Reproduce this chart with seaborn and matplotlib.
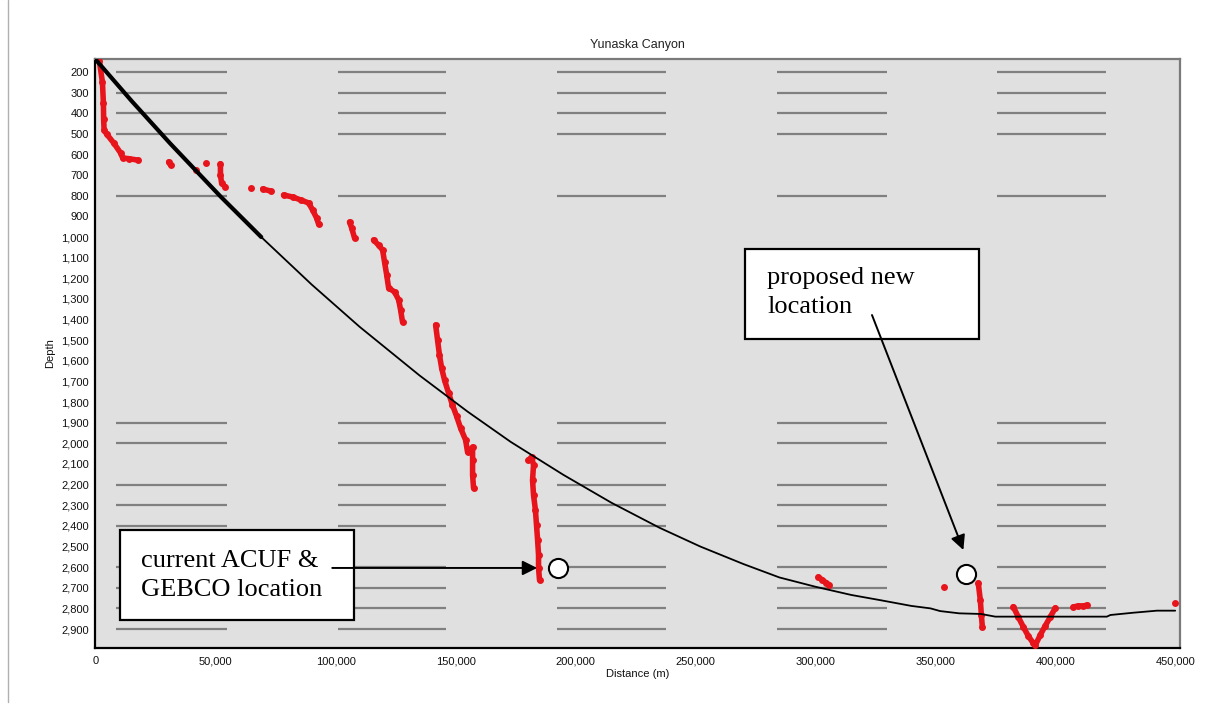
import pandas as pd
import matplotlib
matplotlib.use("Agg")
import matplotlib.pyplot as plt
from matplotlib.patches import Rectangle
from matplotlib.lines import Line2D
import seaborn as sns

# canyon thalweg profile (black line): distance along track (m), depth (m)
profile_dist = [0, 15000, 31000, 52000, 69000, 90000, 110000, 135000, 155000, 173000,
                195000, 215000, 235000, 252000, 270000, 285000, 300000, 315000, 327000,
                340000, 348000, 352000, 360000, 369000, 375000,
                421500, 423000, 432500, 442400, 450000]
profile_depth = [140, 341, 546, 803, 1000, 1230, 1435, 1671, 1846, 1993,
                 2153, 2288, 2409, 2500, 2585, 2650, 2695, 2735, 2760,
                 2788, 2800, 2813, 2824, 2827, 2840,
                 2840, 2832, 2821, 2811, 2811]

# red soundings, grouped in tracks
sound_track = (["a"] * 11 + ["b"] * 2 + ["c"] + ["d"] + ["e"] * 4 + ["f"] + ["g"] * 2
               + ["h"] * 7 + ["i"] * 3 + ["j"] * 10 + ["k"] * 16 + ["l"] * 11
               + ["m"] * 4 + ["n"] + ["o"] * 4 + ["p"] * 10 + ["q"] * 4 + ["r"])
sound_dist = [1500, 2800, 3200, 3300, 3500, 4500, 7500, 10400, 11250, 13750, 17500,
              30400, 31250,
              41700,
              45800,
              52000, 52000, 52500, 54000,
              64600,
              69600, 72900,
              78300, 82100, 85400, 88800, 90400, 92100, 92900,
              105800, 106700, 107900,
              115800, 117900, 119600, 120400, 121300, 122100, 124600, 126300, 127100, 127900,
              141700, 142500, 143300, 144200, 145400, 147100, 148700, 150400, 152100,
              154200, 155000, 156250, 157100, 157100, 157100, 157500,
              180400, 181700, 182500, 182100, 182500, 183300, 183750, 184200, 184600,
              184600, 185000,
              301200, 302900, 304600, 305800,
              353500,
              367900, 368750, 369200, 369600,
              382500, 384600, 386700, 388750, 390800, 391700, 393750, 395800, 397900, 400000,
              407500, 409600, 411700, 413300,
              450000]
sound_depth = [145, 250, 350, 430, 481, 500, 544, 593, 617, 620, 627,
               636, 651,
               675,
               643,
               645, 700, 740, 756,
               764,
               767, 777,
               796, 806, 820, 835, 869, 908, 937,
               927, 956, 1005,
               1014, 1039, 1063, 1121, 1184, 1247, 1266, 1305, 1354, 1412,
               1426, 1499, 1572, 1635, 1693, 1756, 1814, 1867, 1926,
               1984, 2042, 2032, 2018, 2081, 2153, 2216,
               2081, 2066, 2105, 2178, 2250, 2323, 2396, 2468, 2541,
               2604, 2662,
               2648, 2662, 2677, 2687,
               2695,
               2677, 2759, 2832, 2890,
               2792, 2842, 2890, 2934, 2968, 2978, 2929, 2885, 2842, 2798,
               2793, 2788, 2788, 2784,
               2775]

# broken horizontal gridlines seen in the screenshot
grid_depths = [200, 300, 400, 500, 800, 1900, 2000, 2200, 2300, 2400, 2600, 2700, 2800, 2900]
grid_starts = [8300, 100800, 192500, 284200, 375800]
grid_ends = [54600, 146200, 237900, 330000, 421200]

# mooring locations
site_dist = [192900, 362900]
site_depth = [2604, 2633]
site_labels = ["current ACUF &\nGEBCO location", "proposed new\nlocation"]

y_ticks = list(range(200, 3000, 100))
x_ticks = [0, 50000, 100000, 150000, 200000, 250000, 300000, 350000, 400000, 450000]

sns.set_style("white")
plt.rcParams["font.family"] = ["Liberation Sans", "DejaVu Sans"]

fig = plt.figure(figsize=(12.13, 7.09), dpi=100)
ax = fig.add_axes([95 / 1213, 61 / 709, 1085 / 1213, 589 / 709])
ax.set_facecolor("#e0e0e0")

for s, e in zip(grid_starts, grid_ends):
    ax.hlines(grid_depths, s, e, colors="#808080", lw=1.6, zorder=1)

red_df = pd.DataFrame({"dist": sound_dist, "depth": sound_depth, "track": sound_track})
sns.lineplot(data=red_df, x="dist", y="depth", units="track", estimator=None, sort=False,
             color="#e8141c", lw=4, marker="o", markersize=5, markeredgewidth=0,
             legend=False, ax=ax, zorder=3)

prof_df = pd.DataFrame({"dist": profile_dist, "depth": profile_depth})
sns.lineplot(data=prof_df, x="dist", y="depth", sort=False, color="black", lw=1.3,
             ax=ax, zorder=4)
sns.lineplot(data=prof_df.iloc[:5], x="dist", y="depth", sort=False, color="black", lw=3,
             ax=ax, zorder=4)

# annotation boxes
boxes = [(10000, 2420, 97500, 436), (270800, 1058, 97500, 436)]
text_pos = [(18750, 2640), (279900, 1268)]
arrow_from = [(98600, 2604), (323600, 1378)]
arrow_to = [(184000, 2604), (361700, 2517)]
for (bx, by, bw, bh), (tx, ty), label, a0, a1 in zip(boxes, text_pos, site_labels, arrow_from, arrow_to):
    ax.add_patch(Rectangle((bx, by), bw, bh, facecolor="white", edgecolor="black",
                           lw=1.6, zorder=6))
    ax.text(tx, ty, label, family=["Liberation Serif"], fontsize=19, va="center",
            ha="left", linespacing=1.38, color="black", zorder=7)
    ax.annotate("", xy=a1, xytext=a0, zorder=7,
                arrowprops=dict(arrowstyle="-|>", color="black", lw=1.4,
                                mutation_scale=22, shrinkA=0, shrinkB=0))

sns.scatterplot(x=site_dist, y=site_depth, s=190, color="white", edgecolor="black",
                linewidth=1.5, ax=ax, zorder=8)

ax.set_xlim(-300, 452000)
ax.set_ylim(2992, 137)
ax.set_xticks(x_ticks)
ax.set_xticklabels([f"{v:,}" for v in x_ticks])
ax.set_yticks(y_ticks)
ax.set_yticklabels([f"{v:,}" for v in y_ticks])
ax.tick_params(axis="both", direction="out", length=3, width=1, color="black",
               labelsize=8, labelcolor="#111111", pad=1.5)
ax.tick_params(axis="x", pad=3)

for side in ["left", "bottom"]:
    ax.spines[side].set_color("black")
    ax.spines[side].set_linewidth(1.6)
for side in ["top", "right"]:
    ax.spines[side].set_color("#7a7a7a")
    ax.spines[side].set_linewidth(1.6)

ax.set_title("Yunaska Canyon", fontsize=9, pad=8, color="#222222")
ax.set_xlabel("Distance (m)", fontsize=8, color="#111111")
ax.set_ylabel("Depth", fontsize=8, color="#111111")
ax.xaxis.set_label_coords(0.5, -0.036)
ax.yaxis.set_label_coords(-0.037, 0.5)

fig.add_artist(Line2D([8 / 1213, 8 / 1213], [0.01, 1.0], color="#b0b0b0", lw=1))

plt.savefig("out.png", dpi=100)
plt.close()
